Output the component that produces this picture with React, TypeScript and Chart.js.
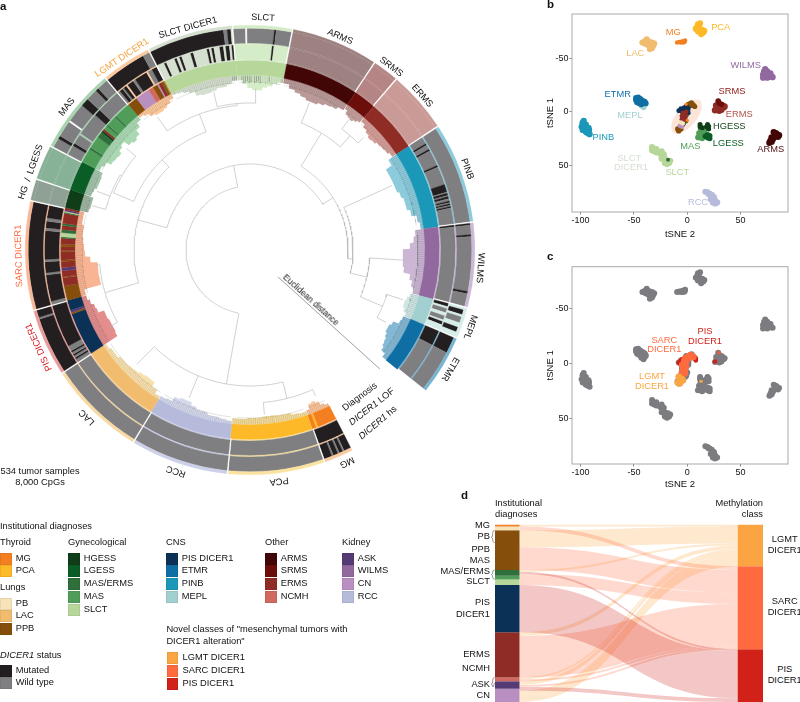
import React, { useEffect, useRef } from "react";
import { Chart, registerables } from "chart.js";

Chart.register(...registerables);
const FONT = '"Liberation Sans", Arial, sans-serif';
Chart.defaults.font.family = FONT;

// ---------- colours ----------
const C: Record<string, string> = {
  MG: "#f47f20", PCA: "#fdb927", PB: "#f6e3b9", LAC: "#f2bc6e", PPB: "#854f0b",
  HGESS: "#0f3d17", LGESS: "#0a5d24", MASERMS: "#2f6f3b", MAS: "#4f9d59", SLCT: "#b7d79a",
  PIS: "#0b3256", ETMR: "#0f6fa5", PINB: "#1b97b8", MEPL: "#a2cfcf",
  ARMS: "#420606", SRMS: "#6c0f0a", ERMS: "#8e2c25", NCMH: "#d0695f",
  ASK: "#553b76", WILMS: "#91699f", CN: "#b98fc1", RCC: "#b6bbdc",
  LGMTn: "#faa541", SARCn: "#ff6b3e", PISn: "#d12118", M: "#231f20", W: "#7f7f82", G: "#ffffff",
};

// ---------- panel a: classes (clockwise from the gap) ----------
const classNames = ["MG", "PCA", "RCC", "LAC", "PIS", "SARC", "HG", "LGESS", "MAS", "LGMT", "SLCTD", "SLCT", "ARMS", "SRMS", "ERMS", "PINB", "WILMS", "MEPL", "ETMR"];
const classSizes = [12.4, 40, 40.5, 40.5, 28, 45, 9, 14.5, 35.6, 21, 35.6, 24.5, 36, 11, 25.6, 41.6, 35, 13, 25];
const classTints = ["#f9c9a0", "#fbe39f", "#ccd0e8", "#f8d9a2", "#e99b9b", "#f9b998", "#8fa195", "#87b298", "#a8d3ae", "#fbc99f", "#d6e0d0", "#d5ecc9", "#9e8181", "#b58484", "#c99a96", "#8ccbdc", "#cdb8d6", "#d5ece8", "#77b4d1"];
const cladeColors = ["#f9c39a", "#f5dd9a", "#d5d9ec", "#f8e0ae", "#e38d8d", "#f9b593", "#9fb6a2", "#a4c4ab", "#aad8b3", "#fbc79b", "#d5dfcf", "#d5ecc9", "#ba9a99", "#c49e9a", "#d49c96", "#8ccbdc", "#cbb6d4", "#cfe6e2", "#85b8d3"];

type Run = (string | number)[];
const hsRuns: Run[] = [
  ["M", 3, "W", 0.7, "M", 1.5, "W", 0.7, "M", 2, "W", 0.7, "M", 3.4],
  ["W", 1], ["W", 1], ["W", 1],
  ["M", 24, "W", 0.8, "M", 3.2],
  ["M", 1],
  ["T", 1], ["T", 1],
  ["W", 4, "M", 1.3, "W", 7, "G", 0.7, "W", 8, "M", 3.5, "W", 5, "M", 1.3, "W", 4.8],
  ["M", 18, "W", 3],
  ["M", 31, "W", 1.5, "M", 1.5, "T", 0.6],
  ["W", 5, "G", 0.7, "W", 11.5, "M", 0.8, "W", 6.5],
  ["T", 1], ["T", 1], ["T", 1],
  ["W", 1],
  ["M", 0.8, "W", 4, "M", 0.8, "W", 23, "M", 1, "W", 5.4],
  ["T", 1, "M", 2, "T", 1, "W", 2.5, "T", 2, "M", 2, "T", 2],
  ["M", 7, "W", 18],
];
const lofRuns: Run[] = [
  ["M", 1],
  ["W", 1], ["W", 1], ["W", 1],
  ["W", 1.5, "M", 0.8, "W", 1, "M", 0.8, "W", 1, "M", 0.8, "W", 2.5, "M", 19.7],
  ["W", 1.5, "M", 12, "W", 1, "M", 5, "W", 1, "M", 13, "W", 1.3, "M", 3, "W", 1.5, "M", 5.7],
  ["T", 1], ["T", 1],
  ["W", 4.5, "M", 1.3, "W", 4.5, "T", 0.7, "W", 10.5, "M", 3, "W", 11],
  ["W", 1, "M", 1.5, "W", 0.7, "M", 1.5, "T", 0.8, "M", 3, "W", 1.2, "M", 6, "T", 0.8, "W", 2, "M", 2.5],
  ["T", 3, "M", 1, "T", 3.8, "M", 1, "T", 1.2, "M", 1, "T", 4, "M", 1.2, "T", 6, "M", 1, "T", 1, "M", 1, "T", 2.5, "M", 1.6, "T", 1, "M", 1.6, "T", 1, "M", 0.8],
  ["T", 17, "M", 0.8, "T", 6.7],
  ["T", 1], ["T", 1], ["T", 1],
  ["W", 3, "M", 0.8, "W", 2, "M", 0.8, "W", 7, "M", 0.8, "W", 8, "M", 3.5, "W", 0.5, "M", 1, "W", 0.5, "M", 1, "W", 1, "M", 0.7, "W", 0.5, "M", 0.7, "W", 0.5, "M", 0.7, "W", 7],
  ["M", 0.8, "W", 34],
  ["M", 1.5, "T", 1, "W", 2, "T", 1.5, "W", 2, "T", 0.8, "M", 1.5, "T", 2.7],
  ["M", 7, "W", 18],
];
const diagRuns: Run[] = [
  ["MG", 9.5, "PCA", 1, "MG", 1.9],
  ["PCA", 1], ["RCC", 1], ["LAC", 1],
  ["PIS", 21, "PPB", 0.8, "ASK", 1.2, "PIS", 5],
  ["PPB", 7, "ERMS", 4, "PPB", 0.5, "ERMS", 3, "ASK", 1.5, "ERMS", 3, "PPB", 0.7, "ERMS", 4, "PPB", 0.5, "ERMS", 2, "PPB", 1.2, "ERMS", 3, "MASERMS", 0.6, "SLCT", 2, "MASERMS", 1.5, "ERMS", 2, "MASERMS", 1, "ERMS", 5, "MASERMS", 0.5, "SLCT", 0.5, "ASK", 0.7, "ERMS", 1],
  ["HGESS", 1], ["LGESS", 1],
  ["MAS", 7, "MASERMS", 1, "MAS", 6, "MASERMS", 3, "HGESS", 1, "ERMS", 1, "MAS", 2, "MASERMS", 0.8, "MAS", 5, "MASERMS", 0.8, "MAS", 8],
  ["PPB", 5, "CN", 7, "NCMH", 2.5, "PPB", 2.5, "CN", 0.7, "ERMS", 1.5, "PPB", 1, "MASERMS", 0.4, "MG", 0.5],
  ["SLCT", 1], ["SLCT", 1], ["ARMS", 1], ["SRMS", 1], ["ERMS", 1], ["PINB", 1], ["WILMS", 1], ["MEPL", 1], ["ETMR", 1],
];
// inner edge (distance from the centre) of each clade, equal angular bins, clockwise
const cladeProfiles: number[][] = [
  [172, 170, 166, 164, 165, 170],
  [171, 170, 168, 168, 167, 167, 168, 168, 169, 169],
  [172, 171, 170, 170, 168, 168, 166, 163, 163, 165, 170, 171],
  [172, 168, 163, 163, 164, 166, 167, 168, 168, 170, 170, 172],
  [158, 157, 157, 157, 158, 158, 164, 165, 168, 170],
  [170, 153, 153, 153, 153, 160, 165, 166, 167, 168, 168, 170, 170],
  [166, 165, 165, 165],
  [168, 167, 165, 165, 165, 166],
  [170, 168, 163, 162, 161, 164, 166, 160, 158, 160, 165, 170],
  [172, 170, 166, 164, 164, 165, 167, 170],
  [173, 172, 170, 168, 163, 162, 162, 163, 165, 165, 167, 170],
  [170, 166, 162, 160, 160, 163, 165, 168, 170],
  [170, 166, 164, 162, 160, 160, 162, 164, 165, 168],
  [170, 166, 165, 164, 166, 168],
  [170, 167, 165, 163, 164, 166, 167, 168, 170],
  [165, 158, 158, 158, 158, 160, 162, 162, 165, 170, 172],
  [166, 164, 160, 153, 153, 153, 155, 162, 165, 168],
  [166, 164, 163, 163, 165, 168],
  [167, 166, 160, 158, 158, 160, 162, 163, 165, 170],
];
// dendrogram: arcs [radius, fromAngle, toAngle], radial stems [angle, r1, r2]
const treeArcs = [
  [64, 190.6, 349], [86, 285, 417.8], [116, 253.6, 315.7], [151, 241.4, 264.4], [126, 292.7, 339.6],
  [145, 325.2, 354.9], [147, 347.1, 362], [148, 292.7, 309.4], [150, 285.7, 300], [98, 31.6, 95],
  [103, 65.6, 103], [120, 93.8, 113], [144, 108, 118], [137, 22, 41.2], [152, 37.2, 45.3],
  [136, 166, 224.7], [153, 155.8, 175],
];
const treeStems = [
  [190, 64, 136], [349, 64, 86], [285, 86, 116], [253.6, 116, 151], [241.4, 151, 161], [264.4, 151, 156],
  [315.7, 116, 126], [339.6, 126, 145], [325.2, 145, 162], [354.9, 145, 147], [347.1, 147, 162], [2, 147, 161],
  [292.7, 126, 148], [309.4, 148, 160], [300, 148, 150], [285.7, 150, 164], [291, 150, 164],
  [57.8, 86, 98], [95, 98, 103], [65.6, 103, 156], [103, 103, 120], [93.8, 120, 153], [113, 120, 144],
  [108, 144, 161], [118, 144, 154], [31.4, 98, 137], [22, 137, 159], [41.2, 137, 152], [37.2, 152, 164], [45.3, 152, 160],
  [224.7, 136, 161], [202.4, 136, 160], [166, 136, 153], [175, 153, 165], [155.8, 153, 160],
];
const distanceBar = [[133.9, 39], [132.5, 176]];

const ringLabels: [string, number, number, string][] = [
  ["ARMS", 22.9, 231, "#111"], ["SRMS", 37.6, 231, "#111"], ["ERMS", 48.3, 231, "#111"], ["PINB", 69.6, 232, "#111"],
  ["WILMS", 94.5, 231, "#111"], ["MEPL", 109.3, 233, "#111"], ["ETMR", 120.8, 233, "#111"], ["MG", 155.4, 233, "#111"],
  ["PCA", 172.8, 233, "#111"], ["RCC", 198.5, 233, "#111"], ["LAC", 224.3, 233, "#111"],
  ["PIS DICER1", 245.3, 232, "#d62027"], ["SARC DICER1", 268.5, 231, "#ff6b3e"], ["HG  /  LGESS", 289.6, 232, "#111"],
  ["MAS", 308, 232, "#111"], ["LGMT DICER1", 326.3, 231, "#f7a039"], ["SLCT DICER1", 344.4, 230, "#111"], ["SLCT", 3.2, 232, "#111"],
];

// ---------- panels b, c: tSNE (x = tSNE 2, y = tSNE 1) ----------
type P = [number, number];
const ptsPCA: P[] = [[10, -82], [12, -83], [9, -79], [11, -79], [13, -76], [15, -74.5], [12, -75], [14, -77], [16, -76], [8, -78], [10, -75.5], [13, -73]];
const ptsMG: P[] = [[-9.5, -65], [-7.5, -65.5], [-6, -65], [-5, -66], [-3, -66.5], [-2, -67], [-4, -65], [-2.5, -65.5]];
const ptsLAC: P[] = [[-40, -66], [-38, -68], [-36, -66], [-39, -64], [-37, -63], [-35, -64], [-33, -65], [-31, -64], [-34, -62], [-33, -60], [-35, -59], [-42, -65], [-32, -62], [-38, -65]];
const ptsWILMS: P[] = [[72, -38], [73, -40], [75, -38], [71, -35], [73, -33], [76, -35], [78, -36], [79, -33], [75, -32], [71, -32], [74, -36], [77, -33], [80, -32.5]];
const ptsETMR: P[] = [[-48, -13], [-48, -11], [-47, -9], [-45, -8], [-43, -7], [-46, -13.5], [-44, -12], [-42, -10.5], [-40, -9.5], [-39, -8]];
const ptsMEPL: P[] = [[-42, -7], [-41, -5], [-43, -5.5], [-40, -6], [-41, -4], [-39, -7]];
const ptsPINB: P[] = [[-98, 11], [-99, 14], [-97, 13], [-96, 16], [-98, 17], [-95, 12], [-94, 15], [-94, 18], [-92, 17], [-93, 20], [-91.5, 21], [-95, 19], [-97, 8.5], [-98, 10], [-92.5, 15]];
const ptsSRMS: P[] = [[29, -10], [30, -8], [32, -7]];
const ptsERMS: P[] = [[27, -6], [28, -3], [30, -1], [32, -2], [34, -4], [35, -5], [31, -5], [33, -6], [29, -5], [30, -3.5], [26, -1.5]];
const ptsARMS: P[] = [[78, 27], [77, 29], [80, 26], [81, 24], [79, 24], [82, 23], [84, 21], [86, 22], [83, 20], [81, 19], [85, 23.5], [79, 28]];
const ptsHGESS: P[] = [[12, 12], [14, 15], [18, 14], [20, 16], [19, 12], [20, 13.5], [12, 14]];
const ptsLGESS: P[] = [[17, 23], [19, 24], [21, 22.5], [19, 21.5], [21, 25]];
const ptsMAS: P[] = [[11, 20], [13, 22], [10, 24], [14, 25], [12, 24], [15, 21], [16, 18], [12.5, 17]];
const ptsSLCT: P[] = [[-33, 33], [-33, 36], [-31, 37], [-29, 38], [-27, 38], [-25, 39.5], [-24, 37], [-22, 40], [-24, 44], [-21, 44], [-19, 46], [-21, 48], [-19, 49], [-17, 48], [-16, 46], [-29, 35]];
const ptsRCC: P[] = [[17, 75], [19, 75.5], [21, 77], [23, 78], [25, 80], [26, 83], [24, 85], [26, 86], [22, 82], [28, 85], [20, 77], [24, 82]];
const ptsPPB: P[] = [[1, -7], [3, -8], [4, -8.5], [5, -7], [6, -6], [4, -6], [7, -5], [2, -6], [-9, 16], [-8, 17], [-7, 15], [-6, 16], [-8, 18], [-4, 8], [-1, 3]];
const ptsNavy: P[] = [[-3, -4], [-2, -3], [-1, -5], [-4, -2], [-5, 0], [-8, -1], [-1, -2], [0, -4], [1, 1], [-3, 2], [-6, -3], [1, -3], [-4, 12]];
const ptsMixRed: P[] = [[-4, 1], [-3, 3], [-2, 5], [-4, 5], [-2, 7], [-5, 4], [-3, 6], [-3, 9], [-1, 0], [-5, 7], [-2, 2]];
const ptsCN: P[] = [[-7, 13], [-5, 14], [-6, 12]];
const ptsMixGreen: P[] = [[-1, 9], [-2, 4], [-5, -2], [-18, 45], [1, -1], [-3, 11]];
const ptsMixPale: P[] = [[-6, 10], [-4, 11]];
const ptsMixMG: P[] = [[-1, -7], [0, 8]];

const clustersB: [string, P[], number][] = [
  ["PCA", ptsPCA, 3.1], ["MG", ptsMG, 2.2], ["LAC", ptsLAC, 3.1], ["WILMS", ptsWILMS, 3.1], ["MEPL", ptsMEPL, 2.7], ["ETMR", ptsETMR, 3],
  ["PINB", ptsPINB, 3.1], ["ERMS", ptsERMS, 3.2], ["SRMS", ptsSRMS, 2.8], ["ARMS", ptsARMS, 3.2], ["MAS", ptsMAS, 2.8], ["LGESS", ptsLGESS, 2.8],
  ["HGESS", ptsHGESS, 2.5], ["SLCT", ptsSLCT, 3.1], ["RCC", ptsRCC, 3.1], ["MASERMS", ptsMixGreen, 2], ["PPB", ptsPPB, 2.6], ["PIS", ptsNavy, 2.4],
  ["ERMS", ptsMixRed, 2.4], ["CN", ptsCN, 2.2], ["PB", ptsMixPale, 2.2], ["MG", ptsMixMG, 1.7],
];
const novelSARC: P[] = [[3, -8], [5, -7], [1, -7], [0, -6], [-2, -5], [4, -6], [6, -6], [2, -5], [-1, -4], [-3, -3], [-2, -2], [-3, 0], [-1, -1], [-4, 3], [-2, 1], [-3, 5], [-1, 3], [-4, 6], [-3, 8], [-2, 6], [-2, 9], [-4, 9], [-2, 4], [-1, -3], [-5, 7], [-5, 1]];
const novelPIS: P[] = [[-8, -1], [-7, 0], [-6, -3], [-5, -4], [8, -5], [8, -3], [26, -2], [-4, 1]];
const novelPISlight: P[] = [[30, -10]];
const novelLGMT: P[] = [[-8, 17], [-7, 15], [-6, 16], [-5, 14], [-8, 12], [-7, 18], [-9, 17], [-4, 15]];
const novelLGMTsmall: P[] = [[13, 16]];
const greyExtra: P[] = [[-1, 11], [-2, 12]];
const xTicks = [-100, -50, 0, 50];
const yTicks = [-50, 0, 50];
const ellipse = { cx: -0.6, cy: 4.4, a: 19.5, b: 9.2, rot: -50 };

// ---------- panel d: alluvial ----------
const leftNodes = ["MG", "PB", "PPB", "MASERMS", "MAS", "SLCT", "PIS", "ERMS", "NCMH", "ASK", "CN"];
const rightNodes = ["LGMTn", "SARCn", "PISn"];
const flowFrom = [0, 1, 2, 2, 3, 3, 3, 4, 5, 6, 7, 7, 8, 8, 9, 9, 9, 10, 10];
const flowTo = [0, 1, 0, 1, 0, 2, 1, 1, 1, 2, 0, 1, 0, 1, 0, 1, 2, 2, 0];
const flowValue = [1, 2, 9, 12, 1, 1, 1, 2, 3, 25, 2, 22, 1, 1, 2, 1, 1, 1, 6];
const flowRank = [0, 0, 1, 1, 2, 0, 2, 3, 4, 1, 3, 5, 4, 6, 5, 7, 2, 3, 6];
const flowTints = ["rgba(250,165,65,0.26)", "rgba(255,107,62,0.26)", "rgba(209,33,24,0.25)"];
const brackets: P[][] = [
  [[-0.3, 3], [-2, 3.4], [-2.6, 6.2], [-3.6, 6.6], [-2.6, 7], [-2, 9], [-0.3, 9.5]],
  [[-0.3, 24], [-2, 24.3], [-2.6, 26], [-3.6, 26.4], [-2.6, 27], [-2, 28.5], [-0.3, 29]],
  [[-0.3, 81], [-2, 81.5], [-2.6, 84], [-4, 84.5], [-2.6, 85], [-2, 86], [-0.3, 83.8]],
];

// ---------- helpers ----------
const polar = (a: number, r: number) => {
  const t = (a * Math.PI) / 180;
  return { x: r * Math.sin(t), y: r * Math.cos(t) };
};
const GAP_BREAK = { x: null as any, y: null as any };
const total = classSizes.reduce((s, v) => s + v, 0);
const START = 153;
const SWEEP = 336;
const classStart = (i: number) => START + (classSizes.slice(0, i).reduce((s, v) => s + v, 0) / total) * SWEEP;

function ring(runs: Run[], colorOf: (k: string, i: number) => string, gap: number) {
  const data: number[] = [];
  const colors: string[] = [];
  runs.forEach((r, i) => {
    let sum = 0;
    for (let j = 1; j < r.length; j += 2) sum += r[j] as number;
    const room = classSizes[i] - gap;
    for (let j = 0; j < r.length; j += 2) {
      data.push(((r[j + 1] as number) / sum) * room);
      colors.push(colorOf(r[j] as string, i));
    }
    if (gap > 0) {
      data.push(gap);
      colors.push("#ffffff");
    }
  });
  return { data, colors };
}
const statusColor = (k: string, i: number) => (k === "T" ? classTints[i] : C[k]);
const tintRuns: Run[] = classSizes.map(() => ["T", 1]);

function Chartjs({ left, top, w, h, make }: { left: number; top: number; w: number; h: number; make: (c: HTMLCanvasElement) => Chart }) {
  const ref = useRef<HTMLCanvasElement>(null);
  useEffect(() => {
    const ch = make(ref.current!);
    return () => ch.destroy();
  }, []);
  return <canvas ref={ref} width={w} height={h} style={{ position: "absolute", left, top, width: w, height: h }} />;
}

const T = ({ x, y, c = "#111", s = 9.3, rot = 0, align = "center", children, weight }: any) => (
  <div
    style={{
      position: "absolute", left: x, top: y, whiteSpace: "pre", color: c, fontSize: s, lineHeight: 1, fontFamily: FONT, fontWeight: weight || 400,
      transform: `translate(${align === "center" ? "-50%" : align === "right" ? "-100%" : "0"},-50%) rotate(${rot}deg)`,
    }}
  >
    {children}
  </div>
);

const GAP = 0.55;
function makeRings(cv: HTMLCanvasElement) {
  const rings = [
    { ...ring(tintRuns, statusColor, GAP), weight: 3 },
    { ...ring(hsRuns, statusColor, GAP), weight: 15 },
    { ...ring(tintRuns, statusColor, GAP), weight: 1.2 },
    { ...ring(lofRuns, statusColor, GAP), weight: 14.8 },
    { ...ring(tintRuns, statusColor, GAP), weight: 1.2 },
    { ...ring(diagRuns, (k) => C[k], 0), weight: 14.8 },
  ];
  return new Chart(cv, {
    type: "doughnut",
    data: {
      datasets: rings.map((r) => ({
        data: r.data, backgroundColor: r.colors, borderColor: r.colors, borderWidth: 0.3, weight: r.weight, hoverOffset: 0,
      })),
    },
    options: {
      responsive: false, animation: false, cutout: 175, rotation: START, circumference: SWEEP,
      layout: { padding: 25 }, plugins: { legend: { display: false }, tooltip: { enabled: false } }, events: [],
    } as any,
  });
}

function makeTree(cv: HTMLCanvasElement) {
  const datasets: any[] = [];
  const tree: any[] = [];
  treeArcs.forEach(([r, a, b]) => {
    for (let t = a; t < b; t += 1) tree.push(polar(t, r));
    tree.push(polar(b, r), GAP_BREAK);
  });
  treeStems.forEach(([a, r1, r2]) => tree.push(polar(a, r1), polar(a, r2), GAP_BREAK));
  const hatch: any[] = [];
  classNames.forEach((_, i) => {
    const a0 = classStart(i);
    const a1 = classStart(i + 1);
    const prof = cladeProfiles[i];
    const n = Math.round(classSizes[i]);
    for (let s = 0; s < n; s++) {
      const f = (s + 0.5) / n;
      const a = a0 + (a1 - a0) * f;
      const inner = Math.max(prof[Math.floor(f * prof.length)], 167 + (s % 3));
      hatch.push(polar(a, 174.5), polar(a, inner), GAP_BREAK);
    }
    for (let t = a0 + 0.6; t < a1 - 0.6; t += 1) hatch.push(polar(t, 168));
    hatch.push(GAP_BREAK);
  });
  datasets.push({ data: hatch, borderColor: "rgba(50,50,50,0.36)", borderWidth: 0.4, pointRadius: 0, tension: 0 });
  datasets.push({ data: tree, borderColor: "#b2b2b2", borderWidth: 0.6, pointRadius: 0, tension: 0 });
  datasets.push({ data: distanceBar.map(([a, r]) => polar(a, r)), borderColor: "#777", borderWidth: 0.7, pointRadius: 0 });
  classNames.forEach((_, i) => {
    const a0 = classStart(i);
    const a1 = classStart(i + 1);
    const prof = cladeProfiles[i];
    const pts: any[] = [];
    for (let t = a0; t < a1; t += 0.5) pts.push(polar(t, 175.5));
    pts.push(polar(a1 - 0.1, 175.5));
    for (let b = prof.length - 1; b >= 0; b--) {
      const ae = a0 + ((a1 - a0) * (b + 1)) / prof.length;
      const as = a0 + ((a1 - a0) * b) / prof.length;
      pts.push(polar(ae - 0.1, prof[b]), polar(as + 0.1, prof[b]));
    }
    datasets.push({ data: pts, fill: "shape", backgroundColor: cladeColors[i], borderWidth: 0, pointRadius: 0, tension: 0 });
  });
  return new Chart(cv, {
    type: "line",
    data: { datasets },
    options: {
      responsive: false, animation: false, events: [],
      layout: { padding: 0 },
      scales: { x: { type: "linear", min: -250, max: 250, display: false }, y: { type: "linear", min: -250, max: 250, display: false } },
      plugins: { legend: { display: false }, tooltip: { enabled: false } },
    } as any,
  });
}

const frame = {
  id: "frame",
  afterDraw(ch: any) {
    const { ctx, chartArea: a } = ch;
    ctx.save();
    ctx.strokeStyle = "#a9a9a9";
    ctx.lineWidth = 1;
    ctx.strokeRect(a.left, a.top, a.right - a.left, a.bottom - a.top);
    ctx.restore();
  },
};

function tsneOptions(yMin: number, yMax: number, padTop: number, xH: number) {
  return {
    responsive: false, animation: false, events: [],
    layout: { padding: { top: padTop, right: 12, left: 0, bottom: 0 } },
    plugins: { legend: { display: false }, tooltip: { enabled: false } },
    scales: {
      x: {
        type: "linear", min: -108, max: 94.4,
        afterBuildTicks: (s: any) => { s.ticks = xTicks.map((value) => ({ value })); },
        afterFit: (s: any) => { s.height = xH; },
        ticks: { color: "#111", font: { size: 9 }, padding: 1, maxRotation: 0, autoSkip: false },
        grid: { drawOnChartArea: false, tickLength: 2.5, color: "#888" },
        border: { display: false },
        title: { display: true, text: "tSNE 2", color: "#111", font: { size: 9.5 }, padding: { top: 1, bottom: 0 } },
      },
      y: {
        type: "linear", reverse: true, min: yMin, max: yMax,
        afterBuildTicks: (s: any) => { s.ticks = yTicks.map((value) => ({ value })); },
        afterFit: (s: any) => { s.width = 27; },
        ticks: { color: "#111", font: { size: 9 }, padding: 1, autoSkip: false },
        grid: { drawOnChartArea: false, tickLength: 2.5, color: "#888" },
        border: { display: false },
        title: { display: true, text: "tSNE 1", color: "#111", font: { size: 9.5 }, padding: { top: 0, bottom: 0 } },
      },
    },
  } as any;
}
const toXY = (p: P[]) => p.map(([x, y]) => ({ x, y }));

function makeB(cv: HTMLCanvasElement) {
  const el: any[] = [];
  const rot = (ellipse.rot * Math.PI) / 180;
  for (let t = 0; t < 360; t += 10) {
    const u = ellipse.a * Math.cos((t * Math.PI) / 180);
    const v = ellipse.b * Math.sin((t * Math.PI) / 180);
    el.push({ x: ellipse.cx + u * Math.cos(rot) - v * Math.sin(rot), y: ellipse.cy + u * Math.sin(rot) + v * Math.cos(rot) });
  }
  const ds: any[] = clustersB.map(([k, p, r]) => ({ data: toXY(p), backgroundColor: C[k], borderWidth: 0, pointRadius: r, showLine: false }));
  ds.reverse();
  ds.push({ data: el, type: "line", showLine: true, fill: "shape", backgroundColor: "rgba(250,205,185,0.55)", borderWidth: 0, pointRadius: 0, order: 5 });
  return new Chart(cv, { type: "scatter", data: { datasets: ds }, options: tsneOptions(-91.8, 94, 14, 28), plugins: [frame] });
}

function makeC(cv: HTMLCanvasElement) {
  const all: P[] = clustersB.reduce((acc: P[], c) => acc.concat(c[1]), []).concat(greyExtra);
  const ds = [
    { data: toXY(novelLGMT), backgroundColor: C.LGMTn, pointRadius: 3.3, borderWidth: 0 },
    { data: toXY(novelLGMTsmall), backgroundColor: C.LGMTn, pointRadius: 1.7, borderWidth: 0 },
    { data: toXY(novelSARC), backgroundColor: C.SARCn, pointRadius: 3.1, borderWidth: 0 },
    { data: toXY(novelPIS), backgroundColor: C.PISn, pointRadius: 2.3, borderWidth: 0 },
    { data: toXY(novelPISlight), backgroundColor: "#ee5a3a", pointRadius: 1.8, borderWidth: 0 },
    { data: toXY(all), backgroundColor: "#7c7c80", pointRadius: 3, borderWidth: 0 },
  ];
  return new Chart(cv, { type: "scatter", data: { datasets: ds }, options: tsneOptions(-88, 91, 26.7, 26), plugins: [frame] });
}

function makeD(cv: HTMLCanvasElement) {
  const BAR_L = 24.5;
  const BAR_R0 = 242.7;
  const BAR_R1 = 268;
  const rect = (x0: number, x1: number, y0: number, y1: number) => [{ x: x0, y: y0 }, { x: x1, y: y0 }, { x: x1, y: y1 }, { x: x0, y: y1 }];
  const leftSize = leftNodes.map((_, i) => flowValue.reduce((s, v, k) => s + (flowFrom[k] === i ? v : 0), 0));
  const rightSize = rightNodes.map((_, i) => flowValue.reduce((s, v, k) => s + (flowTo[k] === i ? v : 0), 0));
  const leftTop: number[] = [];
  leftSize.reduce((s, v, i) => ((leftTop[i] = s), s + v), 0);
  const rightTop: number[] = [];
  rightSize.reduce((s, v, i) => ((rightTop[i] = s), s + v), 0);
  const cursorL = leftTop.slice();
  const y0s: number[] = [];
  flowValue.forEach((v, k) => { y0s[k] = cursorL[flowFrom[k]]; cursorL[flowFrom[k]] += v; });
  const y1s: number[] = [];
  const order = flowValue.map((_, k) => k).sort((p, q) => flowRank[p] - flowRank[q]);
  const cursorR = rightTop.slice();
  order.forEach((k) => { y1s[k] = cursorR[flowTo[k]]; cursorR[flowTo[k]] += flowValue[k]; });
  const datasets: any[] = [];
  leftNodes.forEach((k, i) => datasets.push({ data: rect(0, BAR_L, leftTop[i], leftTop[i] + leftSize[i]), fill: "shape", backgroundColor: C[k], borderWidth: 0, pointRadius: 0 }));
  rightNodes.forEach((k, i) => datasets.push({ data: rect(BAR_R0, BAR_R1, rightTop[i], rightTop[i] + rightSize[i]), fill: "shape", backgroundColor: C[k], borderWidth: 0, pointRadius: 0 }));
  brackets.forEach((b) => datasets.push({ data: toXY(b), borderColor: "#333", borderWidth: 0.5, pointRadius: 0, tension: 0.2 }));
  flowValue.forEach((v, k) => {
    const xm = (BAR_L + BAR_R0) / 2;
    const edge = (ya: number, yb: number) => {
      const out: any[] = [];
      for (let s = 0; s <= 30; s++) {
        const t = s / 30;
        const u = 1 - t;
        out.push({
          x: u * u * u * BAR_L + 3 * u * u * t * xm + 3 * u * t * t * xm + t * t * t * BAR_R0,
          y: ya + (yb - ya) * (3 * t * t - 2 * t * t * t),
        });
      }
      return out;
    };
    const top = edge(y0s[k], y1s[k]);
    const bottom = edge(y0s[k] + v, y1s[k] + v).reverse();
    datasets.push({ data: top.concat(bottom), fill: "shape", backgroundColor: flowTints[flowTo[k]], borderWidth: 0, pointRadius: 0, tension: 0 });
  });
  return new Chart(cv, {
    type: "line",
    data: { datasets },
    options: {
      responsive: false, animation: false, events: [], layout: { padding: 0 },
      scales: { x: { type: "linear", min: -10, max: 268, display: false }, y: { type: "linear", reverse: true, min: -0.37, max: 94, display: false } },
      plugins: { legend: { display: false }, tooltip: { enabled: false } },
    } as any,
  });
}

// ---------- legend ----------
const Swatch = ({ x, y, h = 11.5, c }: any) => (
  <div style={{ position: "absolute", left: x, top: y, width: 11.5, height: h, background: c, boxSizing: "border-box", border: "0.5px solid rgba(0,0,0,0.06)" }} />
);
const legendGroups: [string, number, number, [string, string][]][] = [
  ["Thyroid", 0, 543, [["MG", C.MG], ["PCA", C.PCA]]],
  ["Lungs", 0, 588, [["PB", C.PB], ["LAC", C.LAC], ["PPB", C.PPB]]],
  ["Gynecological", 68, 543, [["HGESS", C.HGESS], ["LGESS", C.LGESS], ["MAS/ERMS", C.MASERMS], ["MAS", C.MAS], ["SLCT", C.SLCT]]],
  ["CNS", 166, 543, [["PIS DICER1", C.PIS], ["ETMR", C.ETMR], ["PINB", C.PINB], ["MEPL", C.MEPL]]],
  ["Other", 265, 543, [["ARMS", C.ARMS], ["SRMS", C.SRMS], ["ERMS", C.ERMS], ["NCMH", C.NCMH]]],
  ["Kidney", 342, 543, [["ASK", C.ASK], ["WILMS", C.WILMS], ["CN", C.CN], ["RCC", C.RCC]]],
];
const novelLegend: [string, string][] = [["LGMT DICER1", C.LGMTn], ["SARC DICER1", C.SARCn], ["PIS DICER1", C.PISn]];
const statusLegend: [string, string][] = [["Mutated", C.M], ["Wild type", C.W]];
const labelsB: [string, number, number, string][] = [
  ["PCA", 720.7, 28.3, C.PCA], ["MG", 673.3, 32.7, C.MG], ["LAC", 635.3, 54.3, C.LAC], ["WILMS", 745.7, 66.3, C.WILMS],
  ["ETMR", 617.7, 95.3, C.ETMR], ["MEPL", 630, 116.3, C.MEPL], ["PINB", 603.3, 137.7, C.PINB], ["SRMS", 732, 91.7, "#8e1a14"],
  ["ERMS", 739.3, 115.3, "#b0504a"], ["HGESS", 729.3, 126.7, C.HGESS], ["LGESS", 728.3, 144.3, C.LGESS], ["MAS", 690.3, 146.7, C.MAS],
  ["ARMS", 770.7, 150.3, "#4d1010"], ["SLCT", 629.3, 158.7, "#d5dfcf"], ["DICER1", 631, 168.3, "#d5dfcf"], ["SLCT", 677.3, 173, C.SLCT], ["RCC", 698, 203, C.RCC],
];
const labelsC: [string, number, number, string][] = [
  ["SARC", 664.3, 340.7, C.SARCn], ["DICER1", 664.3, 350, C.SARCn], ["PIS", 705, 332.3, C.PISn], ["DICER1", 705, 341.7, C.PISn],
  ["LGMT", 652, 377.3, C.LGMTn], ["DICER1", 652, 386.7, C.LGMTn],
];
const labelsLeftD: [string, number][] = [
  ["MG", 525.7], ["PB", 537], ["PPB", 549.7], ["MAS", 560.7], ["MAS/ERMS", 571.7], ["SLCT", 582], ["PIS", 603.3], ["DICER1", 614.7],
  ["ERMS", 655.3], ["NCMH", 668.7], ["ASK", 685], ["CN", 695.7],
];
const labelsRightD: [string, number][] = [["LGMT", 540], ["DICER1", 551], ["SARC", 602.3], ["DICER1", 613], ["PIS", 670], ["DICER1", 681]];

export default function App() {
  return (
    <div style={{ position: "fixed", left: 0, top: 0, width: 800, height: 702, background: "#fff", overflow: "hidden" }}>
      <Chartjs left={0} top={0} w={500} h={500} make={makeTree} />
      <Chartjs left={0} top={0} w={500} h={500} make={makeRings} />
      <Chartjs left={545} top={0} w={255} h={240} make={makeB} />
      <Chartjs left={545} top={240} w={255} h={250} make={makeC} />
      <Chartjs left={485} top={524} w={278} h={178} make={makeD} />

      <T x={0} y={7} s={11.5} weight={700} align="left">a</T>
      <T x={547} y={5} s={11.5} weight={700} align="left">b</T>
      <T x={547} y={257} s={11.5} weight={700} align="left">c</T>
      <T x={461} y={496} s={11.5} weight={700} align="left">d</T>

      {ringLabels.map(([t, a, r, c], i) => {
        const p = polar(a, r);
        return <T key={i} x={250 + p.x} y={250 - p.y} rot={a} c={c}>{t}</T>;
      })}
      <T x={360} y={397} rot={-37}>Diagnosis</T>
      <T x={372} y={407} rot={-38}><i>DICER1</i> LOF</T>
      <T x={378} y={423} rot={-40}><i>DICER1</i> hs</T>
      <T x={310.7} y={300} rot={42} s={8.6}>Euclidean distance</T>
      <T x={40} y={472}>534 tumor samples</T>
      <T x={40} y={483}>8,000 CpGs</T>

      <T x={0} y={527} align="left">Institutional diagnoses</T>
      {legendGroups.map(([title, x, y, rows], g) => (
        <React.Fragment key={g}>
          <T x={x} y={y} align="left">{title}</T>
          {rows.map(([name, col], i) => (
            <React.Fragment key={i}>
              <Swatch x={x} y={y + 9.7 + i * 12.7} h={12} c={col} />
              <T x={x + 15.7} y={y + 15.7 + i * 12.7} align="left">{name}</T>
            </React.Fragment>
          ))}
        </React.Fragment>
      ))}
      <T x={0} y={655.7} align="left"><i>DICER1</i> status</T>
      {statusLegend.map(([name, col], i) => (
        <React.Fragment key={i}>
          <Swatch x={0} y={665.3 + i * 12} c={col} />
          <T x={15.7} y={671 + i * 12} align="left">{name}</T>
        </React.Fragment>
      ))}
      <T x={166.4} y={630} align="left">Novel classes of "mesenchymal tumors with</T>
      <T x={166.4} y={642} align="left">DICER1 alteration"</T>
      {novelLegend.map(([name, col], i) => (
        <React.Fragment key={i}>
          <Swatch x={166.5} y={652.3 + i * 12.7} h={12} c={col} />
          <T x={182.5} y={658.3 + i * 12.7} align="left">{name}</T>
        </React.Fragment>
      ))}

      {labelsB.map(([t, x, y, c], i) => <T key={i} x={x} y={y} c={c}>{t}</T>)}
      {labelsC.map(([t, x, y, c], i) => <T key={i} x={x} y={y} c={c}>{t}</T>)}

      <T x={495} y={503.7} align="left">Institutional</T>
      <T x={495} y={514.7} align="left">diagnoses</T>
      <T x={763} y={503.7} align="right">Methylation</T>
      <T x={763} y={514.7} align="right">class</T>
      {labelsLeftD.map(([t, y], i) => <T key={i} x={490} y={y} align="right">{t}</T>)}
      {labelsRightD.map(([t, y], i) => <T key={i} x={784.7} y={y}>{t}</T>)}
    </div>
  );
}
